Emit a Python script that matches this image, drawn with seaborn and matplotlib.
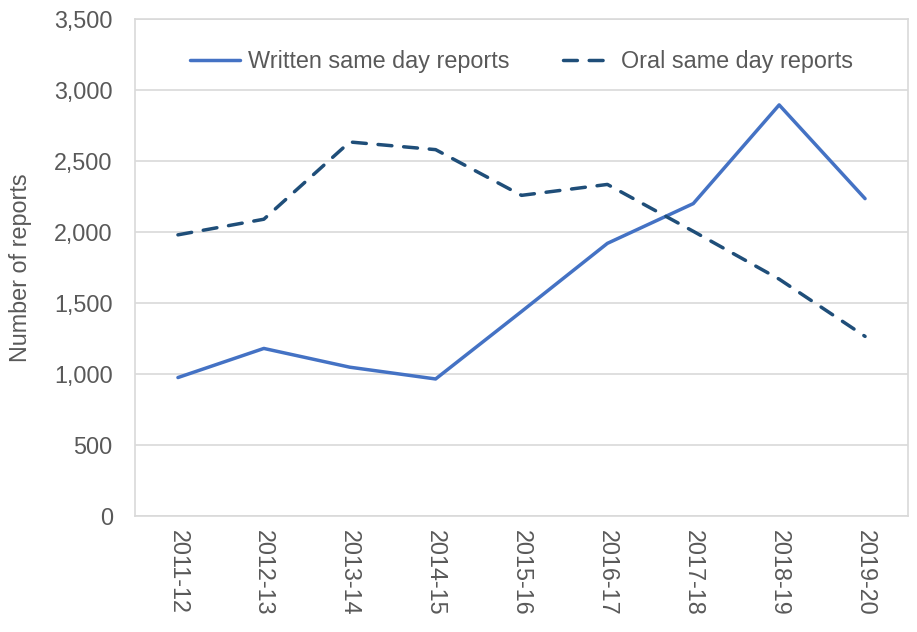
import numpy as np
import pandas as pd
import matplotlib
matplotlib.use("Agg")
import matplotlib.pyplot as plt
import seaborn as sns
from matplotlib.ticker import FuncFormatter, FixedLocator

years = ["2011-12", "2012-13", "2013-14", "2014-15", "2015-16",
         "2016-17", "2017-18", "2018-19", "2019-20"]
written = [975, 1180, 1048, 965, 1440, 1920, 2200, 2895, 2235]
oral = [1980, 2090, 2634, 2580, 2258, 2335, 2005, 1668, 1265]

sns.set_theme(style="white")
plt.rcParams['font.family'] = ['Liberation Sans', 'DejaVu Sans']

gray = "#595959"
grid = "#D9D9D9"
fs = 16.8

fig = plt.figure(figsize=(9.17, 6.32), dpi=100)
ax = fig.add_axes([135/917, 116/632, 773/917, 497/632])

df = pd.DataFrame({"year": years, "Written same day reports": written,
                   "Oral same day reports": oral})

sns.lineplot(data=df, x="year", y="Written same day reports", ax=ax,
             color="#4472C4", linewidth=2.5, label="Written same day reports",
             solid_capstyle="round")
sns.lineplot(data=df, x="year", y="Oral same day reports", ax=ax,
             color="#1F4E79", linewidth=2.5, label="Oral same day reports",
             linestyle=(0, (4, 3.4)), dash_capstyle="round")

ax.set_xlim(-0.5, len(years) - 0.5)
ax.set_ylim(0, 3500)
ax.set_yticks(np.arange(0, 3501, 500))
ax.yaxis.set_major_formatter(FuncFormatter(lambda v, p: f"{int(v):,}"))
ax.grid(axis="y", color=grid, linewidth=1.2)
ax.set_axisbelow(True)

ax.set_xticks(range(len(years)))
ax.set_xticklabels(years, rotation=270, fontsize=fs, color=gray)
ax.xaxis.set_minor_locator(FixedLocator(np.arange(-0.5, len(years), 1)))
ax.tick_params(axis="x", which="major", length=0, pad=10)
ax.tick_params(axis="x", which="minor", length=7, direction="in", color=grid, width=1.2)
ax.tick_params(axis="y", length=0, pad=16, labelsize=fs, labelcolor=gray)

ax.set_xlabel("")
ax.set_ylabel("Number of reports", fontsize=fs, color=gray, labelpad=16)

for s in ax.spines.values():
    s.set_color(grid)
    s.set_linewidth(1.2)

leg = ax.legend(loc="center", bbox_to_anchor=(0.5, 0.915), ncol=2,
                frameon=False, fontsize=fs, handlelength=2.15,
                columnspacing=2.3, handletextpad=0.35)
for t in leg.get_texts():
    t.set_color(gray)

fig.savefig("out.png", dpi=100)
